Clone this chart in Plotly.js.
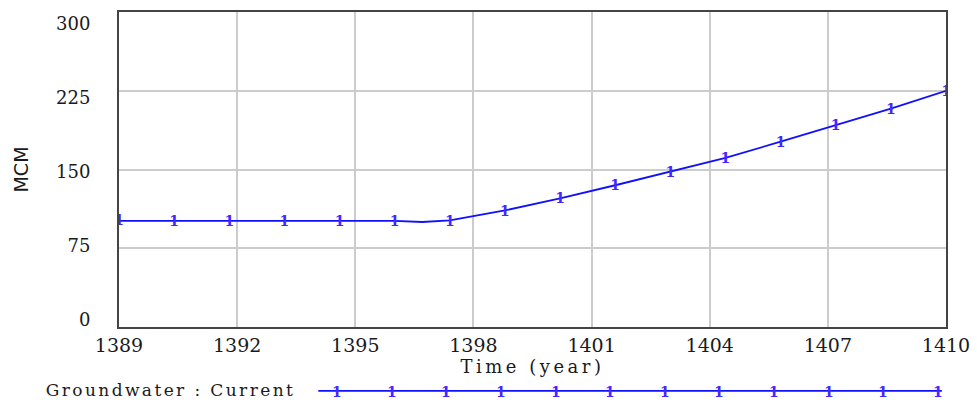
<!DOCTYPE html>
<html><head><meta charset="utf-8">
<script src="https://cdn.plot.ly/plotly-3.0.1.min.js"></script>
<style>
html,body{margin:0;padding:0;background:#fff}#c{width:977px;height:400px}
#c .xtitle{letter-spacing:3.5px}
#c .annotation-text.lg{letter-spacing:2.4px}
</style>
</head><body><div id="c"></div>
<script>
// Line path (simulation output)
var lineTime = [1389, 1390.4, 1391.8, 1393.2, 1394.6, 1396.0, 1396.7, 1397.4, 1398.8, 1400.2, 1401.6, 1403.0, 1404.4, 1405.8, 1407.2, 1408.6, 1410.0];
var lineValue = [101, 101, 101, 101, 101, 101, 100, 101.5, 111, 122.5, 135, 148, 161, 176.5, 192, 208, 225];
// Marker points ("1" labels)
var markTime = [1389, 1390.4, 1391.8, 1393.2, 1394.6, 1396.0, 1397.4, 1398.8, 1400.2, 1401.6, 1403.0, 1404.4, 1405.8, 1407.2, 1408.6, 1410.0];
var markValue = [102, 101, 101, 101, 101, 101, 101.5, 111, 122.5, 135, 148, 161, 176.5, 192, 208, 225];
var yTicks = [0, 75, 150, 225, 300];
var xTicks = [1389, 1392, 1395, 1398, 1401, 1404, 1407, 1410];
var legendLabel = "Groundwater : Current";
var legendMarks = 12;

var blue = '#1010ff';
var markColor = '#4426ff';
var serif = 'DejaVu Serif';
var traces = [
  {x: lineTime, y: lineValue, mode: 'lines', line: {color: blue, width: 1.8}, hoverinfo: 'skip', showlegend: false},
  {x: markTime, y: markValue.map(function(v){return v - 1.5;}), mode: 'text', text: markTime.map(function(){return '1';}),
   textposition: 'middle center', textfont: {family: serif, size: 14, color: markColor, weight: 'bold'}, showlegend: false, hoverinfo: 'skip'},
  // invisible carrier so the tick-label axis is drawn
  {x: yTicks.map(function(){return xTicks[0];}), y: yTicks, yaxis: 'y2', mode: 'markers',
   marker: {opacity: 0, size: 1}, showlegend: false, hoverinfo: 'skip'}
];

var legY = -0.203;
var annotations = [
  {xref: 'paper', yref: 'paper', x: -0.061, y: legY + 0.004, xanchor: 'left', yanchor: 'middle', showarrow: false,
   text: legendLabel, font: {family: serif, size: 17, color: '#1a1a1a'}}
];
var shapes = [
  {type: 'line', xref: 'paper', yref: 'paper', x0: 0.241, x1: 0.995, y0: legY, y1: legY, line: {color: blue, width: 1.8}}
];
for (var i = 0; i < legendMarks; i++) {
  annotations.push({xref: 'paper', yref: 'paper', x: 0.264 + i * 0.066, y: legY - 0.004, xanchor: 'center', yanchor: 'middle',
    showarrow: false, text: '1', font: {family: serif, size: 14, color: markColor, weight: 'bold'}});
}

var layout = {
  width: 977, height: 400,
  margin: {l: 119, r: 31, t: 12, b: 73},
  paper_bgcolor: '#fff', plot_bgcolor: '#fff',
  xaxis: {
    range: [1389, 1410], tickvals: xTicks, ticktext: xTicks.map(String),
    showgrid: true, gridcolor: '#cccccc', gridwidth: 2,
    showline: true, linecolor: '#444', linewidth: 2, mirror: true,
    ticks: '', zeroline: false,
    tickfont: {family: serif, size: 19, color: '#1a1a1a'},
    title: {text: 'Time (year)', font: {family: serif, size: 18, color: '#1a1a1a'}, standoff: 1}
  },
  yaxis: {
    range: [0, 300], tickvals: yTicks, showticklabels: false,
    showgrid: true, gridcolor: '#cccccc', gridwidth: 2,
    showline: true, linecolor: '#444', linewidth: 2, mirror: true,
    ticks: '', zeroline: false
  },
  yaxis2: {
    overlaying: 'y', side: 'left', anchor: 'x',
    range: [-7.1, 312.2], tickvals: yTicks,
    showgrid: false, showline: false, zeroline: false,
    ticks: 'outside', ticklen: 24, tickcolor: 'rgba(0,0,0,0)',
    tickfont: {family: serif, size: 18, color: '#1a1a1a'},
    title: {text: 'MCM', font: {family: 'DejaVu Sans', size: 19, color: '#1a1a1a'}, standoff: 22}
  },
  annotations: annotations,
  shapes: shapes
};
Plotly.newPlot('c', traces, layout, {displayModeBar: false, staticPlot: true}).then(function(){
  var a = document.querySelectorAll('#c .annotation-text');
  if (a.length) a[0].classList.add('lg');
});
</script>
</body></html>
